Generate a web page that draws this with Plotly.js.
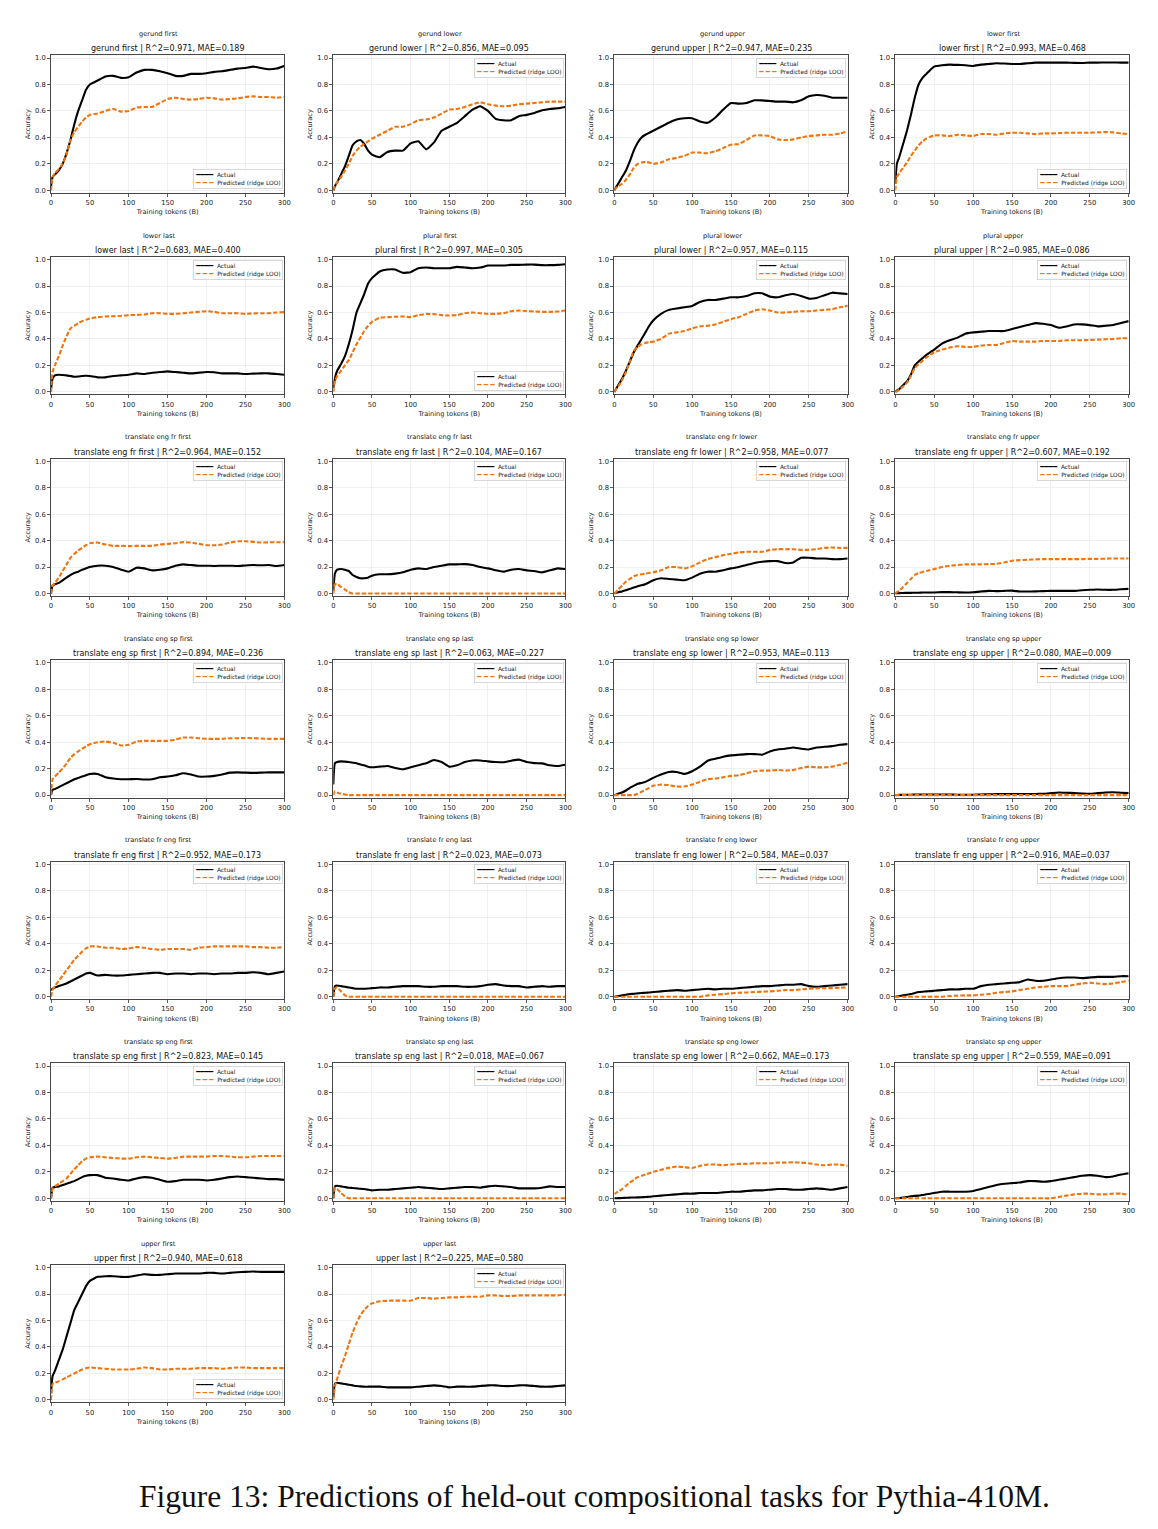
<!DOCTYPE html>
<html><head><meta charset="utf-8">
<script src="https://cdn.plot.ly/plotly-3.0.1.min.js"></script>
<style>body{margin:0;background:#fff}#chart{width:1158px;height:1529px}</style>
</head><body><div id="chart"></div>
<script>
// Training tokens (B) at which values were read
const tokensB = [0,2,5,10,15,20,25,30,35,40,45,50, 60,70,80,90,100, 110,120,130,140,150, 160,170,180,190,200, 210,220,230,240,250, 260,270,280,290,300];

const gerundFirstActual = [0.03,0.10,0.12,0.15,0.20,0.28,0.38,0.50,0.60,0.68,0.76,0.80, 0.83,0.86,0.865,0.85,0.855, 0.89,0.91,0.91,0.90,0.885, 0.865,0.865,0.88,0.88,0.885, 0.895,0.90,0.91,0.92,0.925, 0.935,0.925,0.915,0.92,0.94];
const gerundFirstPred = [0,0.10,0.13,0.16,0.20,0.27,0.38,0.44,0.48,0.52,0.55,0.57, 0.58,0.60,0.615,0.595,0.60, 0.625,0.63,0.63,0.66,0.69, 0.70,0.69,0.685,0.69,0.70, 0.695,0.685,0.69,0.695,0.705, 0.71,0.705,0.705,0.70,0.705];
const gerundLowerActual = [0,0.03,0.06,0.12,0.18,0.26,0.34,0.37,0.38,0.35,0.30,0.27, 0.25,0.29,0.30,0.30,0.355, 0.37,0.31,0.36,0.45,0.48, 0.51,0.56,0.61,0.635,0.60, 0.54,0.53,0.53,0.56,0.57, 0.585,0.605,0.615,0.62,0.63];
const gerundLowerPred = [0,0.03,0.06,0.10,0.15,0.20,0.26,0.30,0.33,0.35,0.37,0.39, 0.42,0.45,0.48,0.48,0.50, 0.53,0.535,0.55,0.58,0.61, 0.615,0.63,0.65,0.665,0.65, 0.64,0.635,0.64,0.65,0.655, 0.66,0.665,0.67,0.67,0.67];
const gerundUpperActual = [0,0.02,0.05,0.10,0.15,0.22,0.30,0.36,0.40,0.42,0.435,0.45, 0.48,0.51,0.535,0.545,0.545, 0.52,0.51,0.55,0.61,0.66, 0.655,0.66,0.68,0.68,0.675, 0.67,0.67,0.665,0.68,0.71, 0.72,0.715,0.70,0.70,0.70];
const gerundUpperPred = [0,0.015,0.03,0.05,0.08,0.12,0.17,0.20,0.21,0.215,0.21,0.20, 0.21,0.235,0.245,0.26,0.285, 0.285,0.28,0.295,0.32,0.345, 0.35,0.38,0.415,0.415,0.41, 0.385,0.38,0.385,0.40,0.41, 0.415,0.42,0.42,0.43,0.445];
const lowerFirstActual = [0.05,0.20,0.25,0.35,0.45,0.57,0.70,0.80,0.85,0.88,0.91,0.935, 0.945,0.95,0.948,0.945,0.94, 0.95,0.955,0.96,0.958,0.955, 0.955,0.96,0.965,0.965,0.965, 0.965,0.965,0.963,0.962,0.965, 0.965,0.966,0.966,0.965,0.965];
const lowerFirstPred = [0,0.10,0.13,0.17,0.21,0.26,0.30,0.34,0.37,0.39,0.405,0.415, 0.415,0.41,0.42,0.415,0.41, 0.425,0.425,0.42,0.43,0.435, 0.435,0.43,0.425,0.43,0.43, 0.432,0.435,0.435,0.435,0.435, 0.438,0.44,0.438,0.43,0.425];
const lowerLastActual = [0.02,0.10,0.125,0.13,0.128,0.125,0.12,0.115,0.117,0.12,0.122,0.12, 0.11,0.11,0.12,0.125,0.13, 0.14,0.135,0.145,0.15,0.155, 0.15,0.145,0.14,0.145,0.15, 0.148,0.14,0.14,0.14,0.135, 0.138,0.14,0.14,0.135,0.13];
const lowerLastPred = [0,0.15,0.20,0.27,0.35,0.42,0.48,0.50,0.52,0.535,0.545,0.555, 0.565,0.57,0.572,0.575,0.58, 0.582,0.585,0.595,0.595,0.59, 0.59,0.595,0.60,0.605,0.61, 0.605,0.595,0.595,0.595,0.59, 0.593,0.595,0.595,0.60,0.603];
const pluralFirstActual = [0.03,0.10,0.16,0.21,0.27,0.36,0.47,0.60,0.67,0.74,0.82,0.86, 0.91,0.925,0.925,0.90,0.905, 0.935,0.94,0.935,0.935,0.935, 0.945,0.94,0.935,0.94,0.955, 0.955,0.955,0.96,0.96,0.962, 0.962,0.958,0.958,0.96,0.965];
const pluralFirstPred = [0,0.08,0.12,0.16,0.20,0.24,0.30,0.36,0.41,0.46,0.50,0.53, 0.56,0.565,0.568,0.57,0.565, 0.58,0.59,0.588,0.58,0.578, 0.58,0.595,0.60,0.595,0.59, 0.59,0.595,0.61,0.615,0.612, 0.608,0.605,0.605,0.608,0.615];
const pluralLowerActual = [0,0.02,0.05,0.10,0.16,0.23,0.30,0.35,0.40,0.45,0.50,0.54, 0.59,0.62,0.63,0.64,0.65, 0.68,0.695,0.695,0.705,0.715, 0.715,0.725,0.745,0.745,0.72, 0.715,0.73,0.74,0.725,0.705, 0.71,0.73,0.75,0.745,0.74];
const pluralLowerPred = [0,0.02,0.04,0.09,0.15,0.23,0.31,0.34,0.36,0.37,0.375,0.38, 0.40,0.44,0.45,0.46,0.48, 0.495,0.50,0.51,0.53,0.55, 0.565,0.59,0.615,0.625,0.615, 0.60,0.60,0.605,0.61,0.61, 0.615,0.62,0.625,0.64,0.65];
const pluralUpperActual = [0,0.01,0.02,0.05,0.08,0.13,0.20,0.23,0.255,0.28,0.30,0.32, 0.365,0.39,0.41,0.44,0.45, 0.455,0.46,0.46,0.46,0.475, 0.49,0.505,0.52,0.515,0.505, 0.485,0.495,0.51,0.51,0.505, 0.495,0.50,0.505,0.52,0.535];
const pluralUpperPred = [0,0.005,0.015,0.04,0.07,0.12,0.18,0.21,0.235,0.26,0.28,0.30, 0.32,0.335,0.345,0.34,0.34, 0.35,0.355,0.355,0.37,0.385, 0.38,0.38,0.38,0.385,0.385, 0.385,0.39,0.39,0.39,0.393, 0.395,0.398,0.40,0.405,0.405];
const engFrFirstActual = [0,0.06,0.07,0.08,0.10,0.12,0.14,0.155,0.165,0.18,0.19,0.20, 0.21,0.21,0.20,0.18,0.165, 0.195,0.19,0.175,0.18,0.19, 0.21,0.22,0.215,0.21,0.21, 0.208,0.21,0.21,0.208,0.212, 0.215,0.213,0.215,0.208,0.215];
const engFrFirstPred = [0,0.06,0.08,0.12,0.17,0.22,0.27,0.30,0.325,0.345,0.365,0.38, 0.385,0.37,0.36,0.36,0.358, 0.36,0.36,0.36,0.37,0.375, 0.38,0.388,0.385,0.375,0.365, 0.365,0.37,0.385,0.395,0.395, 0.39,0.385,0.387,0.387,0.387];
const engFrLastActual = [0.02,0.15,0.18,0.185,0.18,0.17,0.14,0.125,0.115,0.115,0.12,0.135, 0.145,0.145,0.15,0.16,0.18, 0.19,0.185,0.20,0.21,0.22, 0.22,0.222,0.215,0.20,0.19, 0.175,0.165,0.18,0.185,0.175, 0.17,0.16,0.175,0.19,0.185];
const engFrLastPred = [0,0.07,0.07,0.05,0.03,0.01,0,0,0,0,0,0, 0,0,0,0,0, 0,0,0,0,0, 0,0,0,0,0, 0,0,0,0,0, 0,0,0,0,0];
const engFrLowerActual = [0,0.005,0.01,0.015,0.025,0.035,0.045,0.055,0.062,0.07,0.085,0.10, 0.115,0.11,0.105,0.10,0.12, 0.15,0.165,0.165,0.175,0.19, 0.20,0.215,0.23,0.24,0.245, 0.245,0.23,0.235,0.27,0.27, 0.265,0.265,0.26,0.26,0.265];
const engFrLowerPred = [0,0.01,0.03,0.06,0.09,0.11,0.13,0.14,0.145,0.15,0.155,0.16, 0.175,0.20,0.20,0.19,0.205, 0.235,0.26,0.275,0.29,0.30, 0.31,0.315,0.315,0.315,0.33, 0.335,0.335,0.335,0.33,0.33, 0.335,0.345,0.348,0.345,0.345];
const engFrUpperActual = [0,0.002,0.003,0.004,0.005,0.005,0.006,0.006,0.007,0.007,0.008,0.008, 0.01,0.01,0.009,0.008,0.01, 0.015,0.02,0.018,0.02,0.022, 0.015,0.015,0.016,0.018,0.02, 0.02,0.02,0.02,0.025,0.028, 0.03,0.028,0.028,0.032,0.035];
const engFrUpperPred = [0,0.01,0.02,0.05,0.08,0.11,0.14,0.155,0.163,0.17,0.178,0.185, 0.20,0.21,0.215,0.22,0.22, 0.22,0.222,0.225,0.235,0.248, 0.252,0.255,0.258,0.26,0.26, 0.26,0.26,0.26,0.26,0.262, 0.262,0.263,0.265,0.265,0.265];
const engSpFirstActual = [0,0.04,0.045,0.06,0.075,0.09,0.105,0.12,0.13,0.14,0.15,0.16, 0.16,0.135,0.125,0.12,0.12, 0.122,0.118,0.12,0.135,0.14, 0.15,0.165,0.155,0.14,0.14, 0.145,0.155,0.17,0.172,0.17, 0.168,0.17,0.172,0.172,0.172];
const engSpFirstPred = [0,0.12,0.14,0.17,0.20,0.24,0.28,0.31,0.33,0.35,0.37,0.385, 0.40,0.405,0.395,0.375,0.38, 0.405,0.41,0.41,0.41,0.41, 0.42,0.435,0.435,0.43,0.425, 0.425,0.425,0.43,0.43,0.432, 0.43,0.428,0.425,0.425,0.425];
const engSpLastActual = [0.08,0.24,0.25,0.255,0.253,0.25,0.245,0.24,0.232,0.225,0.215,0.21, 0.215,0.22,0.205,0.195,0.21, 0.225,0.24,0.265,0.25,0.215, 0.225,0.25,0.262,0.262,0.255, 0.25,0.248,0.26,0.268,0.25, 0.242,0.24,0.225,0.22,0.23];
const engSpLastPred = [0,0.03,0.02,0.01,0.005,0,0,0,0,0,0,0, 0,0,0,0,0, 0,0,0,0,0, 0,0,0,0,0, 0,0,0,0,0, 0,0,0,0,0];
const engSpLowerActual = [0,0.003,0.01,0.02,0.035,0.055,0.07,0.085,0.092,0.10,0.115,0.13, 0.155,0.175,0.175,0.16,0.18, 0.215,0.26,0.275,0.29,0.30, 0.305,0.31,0.31,0.305,0.33, 0.345,0.35,0.36,0.35,0.345, 0.36,0.365,0.37,0.38,0.385];
const engSpLowerPred = [0,0,0,0,0,0,0,0.01,0.025,0.04,0.055,0.07, 0.08,0.075,0.065,0.065,0.08, 0.10,0.12,0.125,0.135,0.145, 0.15,0.165,0.18,0.185,0.185, 0.19,0.185,0.19,0.205,0.215, 0.21,0.21,0.215,0.23,0.245];
const engSpUpperActual = [0,0.001,0.002,0.002,0.003,0.003,0.004,0.004,0.005,0.005,0.005,0.005, 0.004,0.004,0.003,0.003,0.003, 0.005,0.006,0.007,0.007,0.008, 0.008,0.008,0.008,0.01,0.015, 0.02,0.018,0.015,0.012,0.01, 0.015,0.02,0.022,0.018,0.015];
const engSpUpperPred = [0,0,0,0,0,0,0,0,0,0,0,0, 0,0,0,0,0, 0,0,0,0,0, 0,0,0,0,0, 0,0,0,0,0, 0,0,0,0,0];
const frEngFirstActual = [0.05,0.06,0.07,0.08,0.09,0.10,0.115,0.13,0.145,0.16,0.175,0.18, 0.16,0.165,0.16,0.16,0.165, 0.17,0.175,0.18,0.18,0.17, 0.175,0.175,0.17,0.175,0.175, 0.17,0.175,0.175,0.18,0.18, 0.185,0.18,0.17,0.18,0.19];
const frEngFirstPred = [0,0.05,0.08,0.12,0.16,0.20,0.24,0.28,0.31,0.34,0.365,0.38, 0.38,0.37,0.37,0.36,0.365, 0.375,0.37,0.36,0.355,0.36, 0.36,0.36,0.355,0.37,0.375, 0.38,0.38,0.38,0.38,0.38, 0.375,0.375,0.37,0.37,0.375];
const frEngLastActual = [0,0.08,0.085,0.08,0.075,0.07,0.065,0.06,0.06,0.06,0.062,0.065, 0.07,0.07,0.075,0.08,0.08, 0.08,0.075,0.075,0.08,0.08, 0.08,0.075,0.075,0.08,0.09, 0.095,0.085,0.08,0.08,0.07, 0.075,0.08,0.075,0.08,0.08];
const frEngLastPred = [0,0.06,0.07,0.04,0.01,0,0,0,0,0,0,0, 0,0,0,0,0, 0,0,0,0,0, 0,0,0,0,0, 0,0,0,0,0, 0,0,0,0,0];
const frEngLowerActual = [0,0.002,0.005,0.01,0.015,0.02,0.022,0.025,0.028,0.03,0.032,0.035, 0.04,0.045,0.05,0.045,0.05, 0.055,0.06,0.055,0.06,0.06, 0.065,0.07,0.075,0.08,0.08, 0.085,0.09,0.09,0.095,0.08, 0.075,0.08,0.085,0.09,0.095];
const frEngLowerPred = [0,0,0,0,0,0,0,0,0,0,0,0, 0,0,0,0,0, 0,0.01,0.015,0.02,0.025, 0.03,0.032,0.035,0.038,0.04, 0.045,0.05,0.05,0.055,0.06, 0.062,0.065,0.065,0.068,0.07];
const frEngUpperActual = [0,0.002,0.005,0.01,0.015,0.02,0.028,0.035,0.038,0.04,0.042,0.045, 0.05,0.055,0.055,0.06,0.06, 0.08,0.09,0.095,0.10,0.105, 0.11,0.13,0.12,0.12,0.13, 0.14,0.145,0.145,0.14,0.145, 0.15,0.15,0.15,0.155,0.155];
const frEngUpperPred = [0,0,0,0,0,0,0,0,0,0,0,0, 0,0.005,0.008,0.01,0.01, 0.015,0.02,0.03,0.035,0.04, 0.05,0.06,0.07,0.075,0.08, 0.08,0.08,0.09,0.10,0.105, 0.10,0.095,0.10,0.11,0.12];
const spEngFirstActual = [0,0.08,0.085,0.09,0.10,0.11,0.12,0.13,0.145,0.16,0.17,0.175, 0.175,0.155,0.15,0.14,0.135, 0.15,0.16,0.155,0.14,0.125, 0.13,0.14,0.14,0.14,0.135, 0.14,0.15,0.16,0.165,0.16, 0.155,0.15,0.145,0.145,0.14];
const spEngFirstPred = [0,0.07,0.09,0.11,0.13,0.15,0.185,0.22,0.25,0.28,0.30,0.31, 0.315,0.31,0.305,0.30,0.30, 0.31,0.315,0.31,0.305,0.30, 0.305,0.315,0.315,0.315,0.315, 0.32,0.32,0.315,0.31,0.31, 0.315,0.32,0.32,0.32,0.32];
const spEngLastActual = [0,0.09,0.095,0.09,0.085,0.08,0.078,0.075,0.072,0.07,0.065,0.06, 0.065,0.065,0.07,0.075,0.08, 0.085,0.08,0.075,0.07,0.075, 0.08,0.085,0.085,0.08,0.09, 0.095,0.09,0.085,0.075,0.075, 0.075,0.08,0.09,0.085,0.085];
const spEngLastPred = [0,0.08,0.07,0.04,0.015,0,0,0,0,0,0,0, 0,0,0,0,0, 0,0,0,0,0, 0,0,0,0,0, 0,0,0,0,0, 0,0,0,0,0];
const spEngLowerActual = [0,0,0.001,0.002,0.004,0.005,0.006,0.007,0.008,0.01,0.012,0.015, 0.02,0.025,0.03,0.035,0.035, 0.04,0.04,0.04,0.045,0.05, 0.05,0.055,0.06,0.06,0.065, 0.07,0.07,0.065,0.065,0.07, 0.075,0.07,0.065,0.075,0.085];
const spEngLowerPred = [0.03,0.04,0.05,0.07,0.095,0.12,0.14,0.16,0.17,0.18,0.19,0.20, 0.215,0.23,0.24,0.235,0.23, 0.245,0.255,0.255,0.25,0.255, 0.26,0.26,0.265,0.265,0.265, 0.27,0.27,0.272,0.27,0.265, 0.255,0.25,0.255,0.255,0.245];
const spEngUpperActual = [0,0.001,0.002,0.005,0.01,0.015,0.018,0.02,0.025,0.03,0.035,0.04, 0.05,0.05,0.05,0.05,0.055, 0.07,0.085,0.10,0.11,0.115, 0.12,0.13,0.13,0.125,0.13, 0.14,0.15,0.16,0.17,0.175, 0.17,0.16,0.165,0.18,0.19];
const spEngUpperPred = [0,0,0,0,0,0,0,0,0,0,0,0, 0,0,0,0,0, 0,0,0,0,0, 0,0,0,0,0, 0.01,0.02,0.03,0.035,0.035, 0.03,0.03,0.035,0.035,0.025];
const upperFirstActual = [0.05,0.18,0.22,0.30,0.38,0.48,0.58,0.68,0.74,0.80,0.86,0.90, 0.93,0.935,0.935,0.93,0.93, 0.94,0.95,0.945,0.945,0.95, 0.955,0.955,0.955,0.955,0.96, 0.96,0.955,0.96,0.965,0.968, 0.97,0.968,0.968,0.968,0.968];
const upperFirstPred = [0,0.12,0.13,0.14,0.155,0.17,0.185,0.20,0.215,0.23,0.24,0.245, 0.24,0.235,0.23,0.23,0.23, 0.235,0.245,0.24,0.23,0.23, 0.235,0.235,0.235,0.24,0.24, 0.24,0.235,0.24,0.245,0.245, 0.24,0.24,0.24,0.24,0.24];
const upperLastActual = [0.02,0.12,0.13,0.125,0.12,0.115,0.11,0.105,0.102,0.10,0.10,0.10, 0.10,0.095,0.095,0.095,0.095, 0.10,0.105,0.11,0.105,0.095, 0.10,0.10,0.10,0.105,0.11, 0.11,0.105,0.105,0.11,0.11, 0.105,0.10,0.10,0.105,0.11];
const upperLastPred = [0,0.10,0.16,0.25,0.33,0.42,0.51,0.58,0.64,0.68,0.71,0.73, 0.745,0.75,0.75,0.75,0.75, 0.77,0.77,0.765,0.77,0.775, 0.775,0.78,0.78,0.78,0.79, 0.79,0.785,0.785,0.79,0.79, 0.79,0.79,0.79,0.79,0.795];

const taskNames = ['gerund first','gerund lower','gerund upper','lower first','lower last','plural first','plural lower','plural upper',
  'translate eng fr first','translate eng fr last','translate eng fr lower','translate eng fr upper',
  'translate eng sp first','translate eng sp last','translate eng sp lower','translate eng sp upper',
  'translate fr eng first','translate fr eng last','translate fr eng lower','translate fr eng upper',
  'translate sp eng first','translate sp eng last','translate sp eng lower','translate sp eng upper',
  'upper first','upper last'];
const r2Values = ['0.971','0.856','0.947','0.993','0.683','0.997','0.957','0.985','0.964','0.104','0.958','0.607','0.894','0.063','0.953','0.080','0.952','0.023','0.584','0.916','0.823','0.018','0.662','0.559','0.940','0.225'];
const maeValues = ['0.189','0.095','0.235','0.468','0.400','0.305','0.115','0.086','0.152','0.167','0.077','0.192','0.236','0.227','0.113','0.009','0.173','0.073','0.037','0.037','0.145','0.067','0.173','0.091','0.618','0.580'];
const actualSeries = [gerundFirstActual,gerundLowerActual,gerundUpperActual,lowerFirstActual,lowerLastActual,pluralFirstActual,pluralLowerActual,pluralUpperActual,
  engFrFirstActual,engFrLastActual,engFrLowerActual,engFrUpperActual,engSpFirstActual,engSpLastActual,engSpLowerActual,engSpUpperActual,
  frEngFirstActual,frEngLastActual,frEngLowerActual,frEngUpperActual,spEngFirstActual,spEngLastActual,spEngLowerActual,spEngUpperActual,
  upperFirstActual,upperLastActual];
const predictedSeries = [gerundFirstPred,gerundLowerPred,gerundUpperPred,lowerFirstPred,lowerLastPred,pluralFirstPred,pluralLowerPred,pluralUpperPred,
  engFrFirstPred,engFrLastPred,engFrLowerPred,engFrUpperPred,engSpFirstPred,engSpLastPred,engSpLowerPred,engSpUpperPred,
  frEngFirstPred,frEngLastPred,frEngLowerPred,frEngUpperPred,spEngFirstPred,spEngLastPred,spEngLowerPred,spEngUpperPred,
  upperFirstPred,upperLastPred];
const xTickVals = [0,50,100,150,200,250,300];
const yTickVals = [0,0.2,0.4,0.6,0.8,1.0];

// ---- layout / styling ----
const W = 1158, H = 1529;
const colLeft = [51, 333.3, 614.3, 895.3];
const colRight = [284.3, 565.3, 847.7, 1128.7];
const rowZero0 = 190.3, rowStep = 201.6, pxPerUnit = 132.3;
const lowerRightLegend = new Set(['gerund first','lower first','plural first','upper first']);
const ORANGE = '#f0750f';
const FONT = 'DejaVu Sans, Verdana, sans-serif';

const traces = [];
const annotations = [];
const layout = {
  width: W, height: H, margin: {l:0, r:0, t:0, b:0},
  paper_bgcolor: '#fff', plot_bgcolor: '#fff', showlegend: false,
  font: {family: FONT, color: '#222', size: 7}
};

taskNames.forEach((name, i) => {
  if (actualSeries[i].length !== tokensB.length || predictedSeries[i].length !== tokensB.length) {
    console.error('length mismatch', name);
  }
  const r = Math.floor(i / 4), c = i % 4, k = i + 1;
  const sfx = k === 1 ? '' : String(k);
  const xa = 'x' + sfx, ya = 'y' + sfx;
  const y0 = rowZero0 + rowStep * r;
  const top = y0 - 1.02 * pxPerUnit, bot = y0 + 0.02 * pxPerUnit;
  const common = {
    showline: true, mirror: true, linecolor: '#333', linewidth: 0.9,
    ticks: 'outside', ticklen: 3, tickwidth: 0.8, tickcolor: '#333',
    showgrid: true, gridcolor: '#e9e9e9', gridwidth: 0.7, zeroline: false,
    tickfont: {family: FONT, size: 6.8, color: '#222'}, ticklabeloverflow: 'allow'
  };
  layout['xaxis' + sfx] = Object.assign({}, common, {
    domain: [colLeft[c] / W, colRight[c] / W], anchor: ya, range: [0, 300],
    tickmode: 'array', tickvals: xTickVals, ticktext: xTickVals.map(String),
    title: {text: 'Training tokens (B)', font: {family: FONT, size: 6.6, color: '#222'}, standoff: 3}
  });
  layout['yaxis' + sfx] = Object.assign({}, common, {
    domain: [1 - bot / H, 1 - top / H], anchor: xa, range: [-0.02, 1.02],
    tickmode: 'array', tickvals: yTickVals, ticktext: yTickVals.map(v => v.toFixed(1)),
    title: {text: 'Accuracy', font: {family: FONT, size: 6.6, color: '#222'}, standoff: 3}
  });
  traces.push({
    x: tokensB, y: actualSeries[i], xaxis: xa, yaxis: ya, type: 'scatter', mode: 'lines',
    name: 'Actual', line: {color: '#000', width: 2.1, shape: 'spline', smoothing: 0.4}, hoverinfo: 'skip'
  });
  traces.push({
    x: tokensB, y: predictedSeries[i], xaxis: xa, yaxis: ya, type: 'scatter', mode: 'lines',
    name: 'Predicted (ridge LOO)', line: {color: ORANGE, width: 2.1, dash: '4.5px,2px', shape: 'spline', smoothing: 0.4}, hoverinfo: 'skip'
  });
  const cx = (colLeft[c] + colRight[c]) / 2;
  // figure-level title (slightly left of axes centre)
  annotations.push({
    xref: 'paper', yref: 'paper', x: (cx - 9) / W, y: 1 - (top - 21.4) / H,
    xanchor: 'center', yanchor: 'middle', showarrow: false,
    text: name, font: {family: FONT, size: 6.6, color: '#111'}
  });
  // axes title
  annotations.push({
    xref: 'paper', yref: 'paper', x: cx / W, y: 1 - (top - 6.4) / H,
    xanchor: 'center', yanchor: 'middle', showarrow: false,
    text: name + ' | R^2=' + r2Values[i] + ', MAE=' + maeValues[i],
    font: {family: FONT, size: 8, color: '#111'}
  });
  // legend box
  const lower = lowerRightLegend.has(name);
  annotations.push({
    xref: 'paper', yref: 'paper',
    x: (colRight[c] - 1.8) / W,
    y: lower ? 1 - (bot - 4) / H : 1 - (top + 2.6) / H,
    xanchor: 'right', yanchor: lower ? 'bottom' : 'top', showarrow: false, align: 'left',
    bgcolor: 'rgba(255,255,255,0.85)', bordercolor: '#cfcfcf', borderwidth: 0.8, borderpad: 1.5,
    text: '<span style="font-size:7px;color:#000">━━━━</span>  Actual<br>' +
          '<span style="font-size:7px;color:' + ORANGE + '">━ ━ ━</span>  Predicted (ridge LOO)',
    font: {family: FONT, size: 5.9, color: '#222'}
  });
});

annotations.push({
  xref: 'paper', yref: 'paper', x: 594.5 / W, y: 1 - 1496 / H, xanchor: 'center', yanchor: 'middle',
  showarrow: false, text: 'Figure 13: Predictions of held-out compositional tasks for Pythia-410M.',
  font: {family: 'Liberation Serif, Times New Roman, serif', size: 31.5, color: '#111'}
});
layout.annotations = annotations;

Plotly.newPlot('chart', traces, layout, {staticPlot: true, displayModeBar: false});
</script>
</body></html>
